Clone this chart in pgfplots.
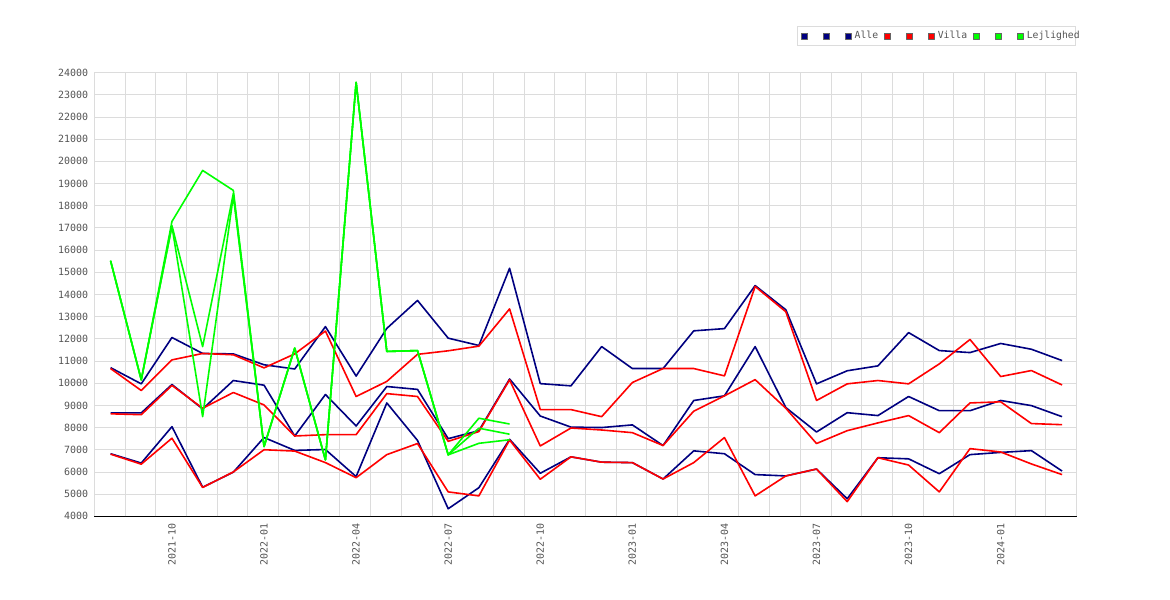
\documentclass[border=0pt]{standalone}
\usepackage{fontspec}
\setmainfont{DejaVu Sans Mono}
\usepackage{pgfplots}
\usepackage{pgfplotstable}
\pgfplotsset{compat=1.18}
\definecolor{navyc}{RGB}{0,0,128}
\definecolor{redc}{RGB}{255,0,0}
\definecolor{greenc}{RGB}{0,255,0}
\definecolor{gridc}{RGB}{220,220,220}
\definecolor{labc}{RGB}{85,85,85}
\definecolor{sqborder}{RGB}{100,100,100}

\pgfplotstableread{
i AH AM AL VH VM VL
0 10700 8660 6820 10660 8620 6800
1 9970 8660 6400 9670 8580 6350
2 12060 9940 8040 11050 9900 7520
3 11340 8840 5310 11340 8870 5300
4 11320 10120 5990 11280 9580 6000
5 10830 9910 7550 10690 9020 7000
6 10640 7620 6970 11320 7620 6940
7 12550 9490 7010 12350 7680 6420
8 10320 8070 5790 9400 7680 5740
9 12470 9850 9110 10080 9530 6780
10 13730 9720 7420 11300 9400 7280
11 12030 7500 4340 11460 7380 5100
12 11700 7860 5290 11670 7820 4920
13 15180 10190 7470 13350 10150 7440
14 9980 8520 5940 8810 7170 5670
15 9880 8020 6680 8810 7980 6680
16 11650 8000 6440 8490 7890 6440
17 10660 8120 6420 10030 7770 6420
18 10660 7190 5680 10660 7190 5680
19 12360 9220 6950 10660 8740 6420
20 12460 9430 6820 10330 9430 7550
21 14400 11650 5880 14360 10160 4920
22 13310 8900 5820 13220 8870 5820
23 9970 7800 6130 9220 7280 6130
24 10560 8670 4790 9970 7860 4660
25 10780 8540 6640 10120 8210 6640
26 12280 9400 6590 9970 8540 6310
27 11470 8760 5920 10870 7770 5100
28 11380 8760 6780 11970 9110 7050
29 11790 9220 6880 10300 9160 6900
30 11530 8990 6960 10570 8180 6360
31 11020 8490 6040 9920 8130 5880
}\tabAV

\pgfplotstableread{
i LH LM LL
0 15520 15520 15520
1 10150 10150 10150
2 17290 17100 17070
3 19590 11650 8490
4 18690 18550 18450
5 7140 7140 7140
6 11580 11580 11580
7 6540 6540 6540
8 23560 23560 23560
9 11430 11430 11430
10 11470 11470 11470
11 6770 6770 6770
12 8420 7970 7290
13 8160 7700 7450
}\tabL

\pgfplotsset{sqlegend/.style={legend image code/.code={\filldraw[fill=#1, draw=sqborder, line width=0.7bp] (0bp,-3bp) rectangle (6bp,3bp);}}}

\begin{document}
\begin{tikzpicture}
\fill[white] (0bp,0bp) rectangle (1170bp,600bp);
\useasboundingbox (0bp,0bp) rectangle (1170bp,600bp);
\begin{axis}[
  at={(94.3bp,83.7bp)}, anchor=south west,
  scale only axis, width=982.2bp, height=443.7bp,
  xmin=-0.53, xmax=31.47, ymin=4000, ymax=24000,
  axis x line=bottom, axis y line=left,
  axis line style={-, black, line width=1bp},
  xtick={2,5,8,11,14,17,20,23,26,29},
  xticklabels={2021-10,2022-01,2022-04,2022-07,2022-10,2023-01,2023-04,2023-07,2023-10,2024-01},
  ytick={4000,5000,...,24000},
  scaled y ticks=false,
  extra x ticks={-0.53,0.47,1.47,2.47,3.47,4.47,5.47,6.47,7.47,8.47,9.47,10.47,11.47,12.47,13.47,14.47,15.47,16.47,17.47,18.47,19.47,20.47,21.47,22.47,23.47,24.47,25.47,26.47,27.47,28.47,29.47,30.47,31.47},
  extra x tick labels={},
  extra x tick style={grid=major},
  ymajorgrids=true,
  grid style={gridc, line width=0.8bp},
  major tick length=0pt,
  tick style={draw=none},
  ticklabel style={font=\fontsize{10}{12}\selectfont, text=labc},
  xticklabel style={rotate=90, anchor=east, inner sep=0pt},
  yticklabel style={anchor=east, inner sep=0pt},
  xticklabel shift=7bp,
  yticklabel shift=6bp,
  /pgf/number format/assume math mode=true,
  /pgf/number format/1000 sep={},
  legend columns=9,
  legend style={at={(0.7154,1.105)}, anchor=north west, draw=gridc, line width=0.8bp,
    inner xsep=4bp, inner ysep=5bp, font=\fontsize{9.8}{12}\selectfont, text=labc,
    nodes={inner sep=0pt},
    /tikz/every odd column/.style={column sep=3bp},
    /tikz/every even column/.style={column sep=6.3bp}},
  legend cell align=left,
  every axis plot/.append style={line width=1.6bp, mark=none, line join=round},
]
\addplot[navyc, sqlegend=navyc] table[x=i,y=AH]{\tabAV}; \addlegendentry{\hspace*{5.8bp}}
\addplot[navyc, sqlegend=navyc] table[x=i,y=AM]{\tabAV}; \addlegendentry{\hspace*{5.8bp}}
\addplot[navyc, sqlegend=navyc] table[x=i,y=AL]{\tabAV}; \addlegendentry{Alle}
\addplot[redc, sqlegend=redc] table[x=i,y=VH]{\tabAV}; \addlegendentry{\hspace*{5.8bp}}
\addplot[redc, sqlegend=redc] table[x=i,y=VM]{\tabAV}; \addlegendentry{\hspace*{5.8bp}}
\addplot[redc, sqlegend=redc] table[x=i,y=VL]{\tabAV}; \addlegendentry{Villa}
\addplot[greenc, sqlegend=greenc] table[x=i,y=LH]{\tabL}; \addlegendentry{\hspace*{5.8bp}}
\addplot[greenc, sqlegend=greenc] table[x=i,y=LM]{\tabL}; \addlegendentry{\hspace*{5.8bp}}
\addplot[greenc, sqlegend=greenc] table[x=i,y=LL]{\tabL}; \addlegendentry{\rlap{Lejlighed}\hspace*{45bp}}
\end{axis}
\end{tikzpicture}
\end{document}
